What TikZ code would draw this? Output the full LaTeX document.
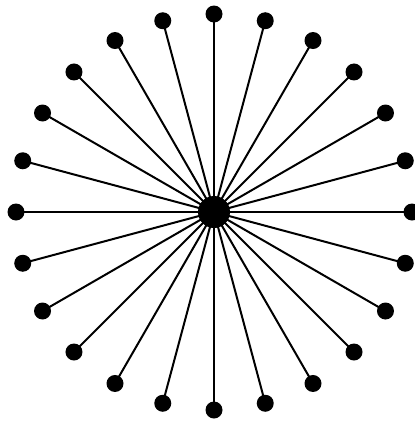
\documentclass[tikz,border=0pt]{standalone}
\usetikzlibrary{calc}
\begin{document}
\begin{tikzpicture}[x=1pt,y=-1pt,
  leaf/.style={circle,fill=black,inner sep=0pt,minimum size=17pt},
  hub/.style={circle,fill=black,inner sep=0pt,minimum size=32pt},
  spoke/.style={line width=2pt,black}]
\useasboundingbox (0,0) rectangle (415,421);
\node[hub] (c) at (214,212) {};
\foreach \i in {0,...,23}{
  \pgfmathsetmacro{\a}{90-15*\i}
  \node[leaf] (n\i) at ($(214,212)+(\a:198)$) {};
}
\foreach \i in {0,...,23}{
  \draw[spoke] (c.center) -- (n\i.center);
}
\end{tikzpicture}
\end{document}
